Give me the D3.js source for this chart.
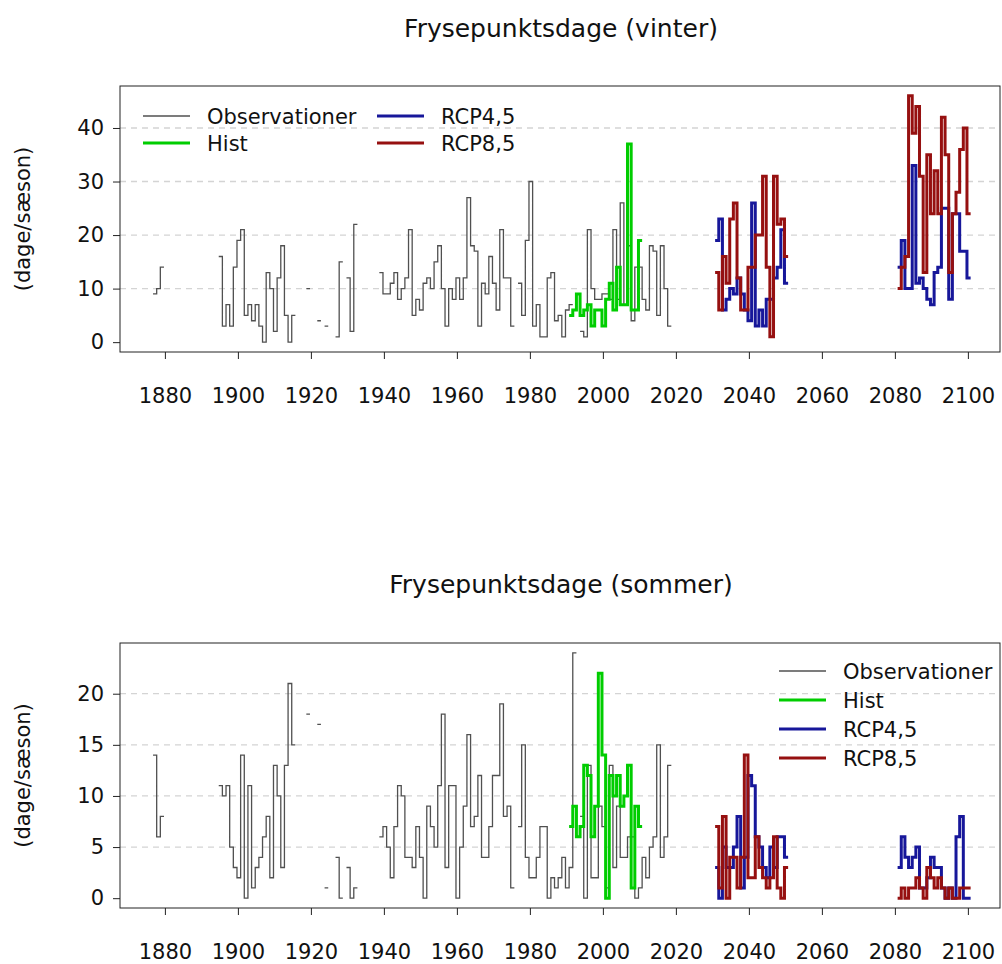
<!DOCTYPE html>
<html>
<head>
<meta charset="utf-8">
<script src="https://cdn.jsdelivr.net/npm/d3@7"></script>
<style>
  body { margin: 0; background: #fff; }
  svg text { font-family: "DejaVu Sans", sans-serif; fill: #111; }
</style>
</head>
<body>
<svg id="chart" width="1002" height="964"></svg>
<script>
// year ticks shared by both panels
const xTicks = [1880, 1900, 1920, 1940, 1960, 1980, 2000, 2020, 2040, 2060, 2080, 2100];
const winterTicks = [0, 10, 20, 30, 40];
const summerTicks = [0, 5, 10, 15, 20];

// observations, one value per year starting 1877 (null = missing)
const obsStart = 1877;
const obsWinter = [
  9, 10, 14,
  null, null, null, null, null, null, null, null, null, null, null, null, null, null, null,
  16, 3, 7, 3, 14, 19, 21, 5, 7, 4, 7, 3, 0, 13, 10, 2, 12, 18, 5, 0, 5,
  null, null, null, 10, null, null, 4, null, 3, null, null, 1, 15, null, 12, 2, 22,
  null, null, null, null, null, null,
  13, 9, 9, 11, 13, 8, 10, 12, 21, 5, 8, 6, 11, 12, 10, 15, 18, 10, 3, 10,
  8, 12, 8, 12, 27, 18, 17, 3, 11, 9, 16, 11, 6, 21, 12, 12, 3,
  null, 11, 5, 19, 30, 3, 7, 1, 1, 12, 13, 4, 5, 1, 6, 7,
  null, null, 2, 1, 21, 10, 8, 8, 9, 9, 8, 21, 8, 26, 7, 18, 4, 14, 14, 8, 6, 18, 17, 5, 18, 10, 3
];
const obsSummer = [
  14, 6, 8,
  null, null, null, null, null, null, null, null, null, null, null, null, null, null, null,
  11, 10, 11, 5, 3, 2, 14, 0, 11, 1, 3, 4, 6, 8, 2, 13, 10, 3, 13, 21, 15,
  null, null, null, 18, null, null, 17, null, 1, null, null, 4, 0, null, 3, 0, 1,
  null, null, null, null, null, null,
  6, 7, 5, 2, 7, 11, 10, 4, 4, 3, 7, 4, 0, 9, 7, 5, 11, 18, 3, 11,
  11, 0, 5, 9, 16, 7, 8, 12, 4, 4, 7, 12, 12, 19, 8, 9, 1,
  null, 7, 15, 4, 2, 2, 4, 7, 7, 0, 2, 1, 2, 4, 1, 3, 24,
  null, 8, 0, 13, 2, 2, 9, 7, 1, 13, 3, 9, 4, 4, 6, 6, 0, 1, 4, 2, 5, 6, 15, 4, 6, 13
];

// model runs
const histStart = 1991;
const histWinter = [5, 6, 9, 5, 6, 7, 3, 6, 6, 3, 8, 11, 6, 14, 7, 7, 37, 6, 6, 19];
const histSummer = [7, 9, 6, 7, 13, 12, 6, 9, 22, 14, 0, 12, 10, 12, 9, 10, 13, 1, 9, 7];

const nearStart = 2031;
const farStart = 2081;
const rcp45WinterNear = [19, 23, 6, 8, 10, 9, 12, 9, 6, 4, 26, 3, 6, 3, 8, 8, 12, 14, 21, 11];
const rcp85WinterNear = [13, 6, 16, 11, 23, 26, 12, 6, 6, 14, 14, 20, 20, 31, 14, 1, 31, 22, 23, 16];
const rcp45WinterFar = [14, 19, 10, 10, 33, 11, 12, 10, 8, 7, 13, 14, 25, 25, 8, 24, 24, 17, 17, 12];
const rcp85WinterFar = [10, 14, 16, 46, 39, 44, 31, 13, 35, 24, 32, 24, 42, 35, 13, 24, 28, 36, 40, 24];

const rcp45SummerNear = [3, 0, 5, 3, 3, 5, 8, 1, 4, 12, 11, 6, 5, 3, 2, 5, 3, 6, 6, 4];
const rcp85SummerNear = [7, 1, 8, 0, 4, 4, 1, 4, 14, 2, 2, 6, 3, 2, 1, 2, 6, 1, 0, 3];
const rcp45SummerFar = [3, 6, 4, 3, 4, 5, 1, 1, 2, 4, 3, 3, 1, 0, 1, 0, 6, 8, 0, 0];
const rcp85SummerFar = [0, 1, 0, 1, 1, 2, 1, 0, 3, 2, 1, 2, 1, 0, 1, 0, 0, 1, 1, 1];

const legendNames = ["Observationer", "Hist", "RCP4,5", "RCP8,5"];
const colors = { obs: "#505050", hist: "#00cd00", rcp45: "#17179a", rcp85: "#961010" };

const svg = d3.select("#chart");
svg.append("rect").attr("width", 1002).attr("height", 964).attr("fill", "#fff");

const x = d3.scaleLinear().domain([1867.7, 2108.8]).range([120, 1000]);
const yearShift = -0.25;

// turn a start year + values into step points, each value lasting one year
function stepPoints(start, values) {
  const pts = [];
  let prev = null;
  values.forEach((v, i) => {
    if (v == null) {
      if (prev) { pts.push({ t: start + i, v: prev.v }); pts.push(null); }
      prev = null;
      return;
    }
    prev = { t: start + i, v: v };
    pts.push(prev);
  });
  if (prev) pts.push({ t: prev.t + 1, v: prev.v });
  return pts;
}

function drawPanel(p) {
  const y = d3.scaleLinear().domain(p.yDomain).range([p.bottom, p.top]);
  const g = svg.append("g");

  g.append("text")
    .attr("x", 561).attr("y", p.titleY)
    .attr("text-anchor", "middle")
    .style("font-size", "25px")
    .text(p.title);

  g.selectAll("line.grid")
    .data(p.yTicks.filter((d) => d > 0))
    .enter()
    .append("line")
    .attr("x1", 120).attr("x2", 1000)
    .attr("y1", (d) => y(d)).attr("y2", (d) => y(d))
    .attr("stroke", "#d4d4d4")
    .attr("stroke-width", 1.3)
    .attr("stroke-dasharray", "6,5");

  const line = d3.line()
    .defined((d) => d != null)
    .x((d) => x(d.t + yearShift))
    .y((d) => y(d.v))
    .curve(d3.curveStepAfter);

  p.series.forEach((s) => {
    g.append("path")
      .attr("d", line(stepPoints(s.start, s.values)))
      .attr("fill", "none")
      .attr("stroke", colors[s.key])
      .attr("stroke-width", s.key === "obs" ? 1.3 : 3);
  });

  g.append("rect")
    .attr("x", 120).attr("y", p.top)
    .attr("width", 880).attr("height", p.bottom - p.top)
    .attr("fill", "none").attr("stroke", "#222").attr("stroke-width", 1);

  const xAxis = g.append("g")
    .attr("transform", `translate(0, ${p.bottom})`)
    .call(d3.axisBottom(x).tickValues(xTicks).tickFormat(d3.format("d")).tickSize(7).tickPadding(29));
  const yAxis = g.append("g")
    .attr("transform", "translate(120, 0)")
    .call(d3.axisLeft(y).tickValues(p.yTicks).tickSize(7).tickPadding(9));
  [xAxis, yAxis].forEach((a) => {
    a.select(".domain").remove();
    a.selectAll("line").attr("stroke", "#222");
    a.selectAll("text").style("font-size", "21px").style("font-family", "DejaVu Sans").attr("fill", "#111");
  });

  g.append("text")
    .attr("transform", `translate(30, ${(p.top + p.bottom) / 2}) rotate(-90)`)
    .attr("text-anchor", "middle")
    .style("font-size", "21px")
    .text("(dage/sæson)");

  const keys = ["obs", "hist", "rcp45", "rcp85"];
  const leg = g.append("g");
  keys.forEach((k, i) => {
    const pos = p.legendPos(i);
    leg.append("line")
      .attr("x1", pos.x).attr("x2", pos.x + 47)
      .attr("y1", pos.y).attr("y2", pos.y)
      .attr("stroke", colors[k])
      .attr("stroke-width", k === "obs" ? 1.3 : 3);
    leg.append("text")
      .attr("x", pos.x + 64).attr("y", pos.y + 7.5)
      .style("font-size", "21px")
      .text(legendNames[i]);
  });
}

drawPanel({
  title: "Frysepunktsdage (vinter)",
  titleY: 37,
  top: 86, bottom: 352,
  yDomain: [-1.84, 47.84],
  yTicks: winterTicks,
  legendPos: (i) => ({ x: i < 2 ? 143 : 377, y: i % 2 === 0 ? 116 : 143 }),
  series: [
    { key: "obs", start: obsStart, values: obsWinter },
    { key: "hist", start: histStart, values: histWinter },
    { key: "rcp45", start: nearStart, values: rcp45WinterNear },
    { key: "rcp85", start: nearStart, values: rcp85WinterNear },
    { key: "rcp45", start: farStart, values: rcp45WinterFar },
    { key: "rcp85", start: farStart, values: rcp85WinterFar }
  ]
});

drawPanel({
  title: "Frysepunktsdage (sommer)",
  titleY: 593,
  top: 643, bottom: 908,
  yDomain: [-0.96, 24.96],
  yTicks: summerTicks,
  legendPos: (i) => ({ x: 779, y: 671 + i * 29 }),
  series: [
    { key: "obs", start: obsStart, values: obsSummer },
    { key: "hist", start: histStart, values: histSummer },
    { key: "rcp45", start: nearStart, values: rcp45SummerNear },
    { key: "rcp85", start: nearStart, values: rcp85SummerNear },
    { key: "rcp45", start: farStart, values: rcp45SummerFar },
    { key: "rcp85", start: farStart, values: rcp85SummerFar }
  ]
});
</script>
</body>
</html>
